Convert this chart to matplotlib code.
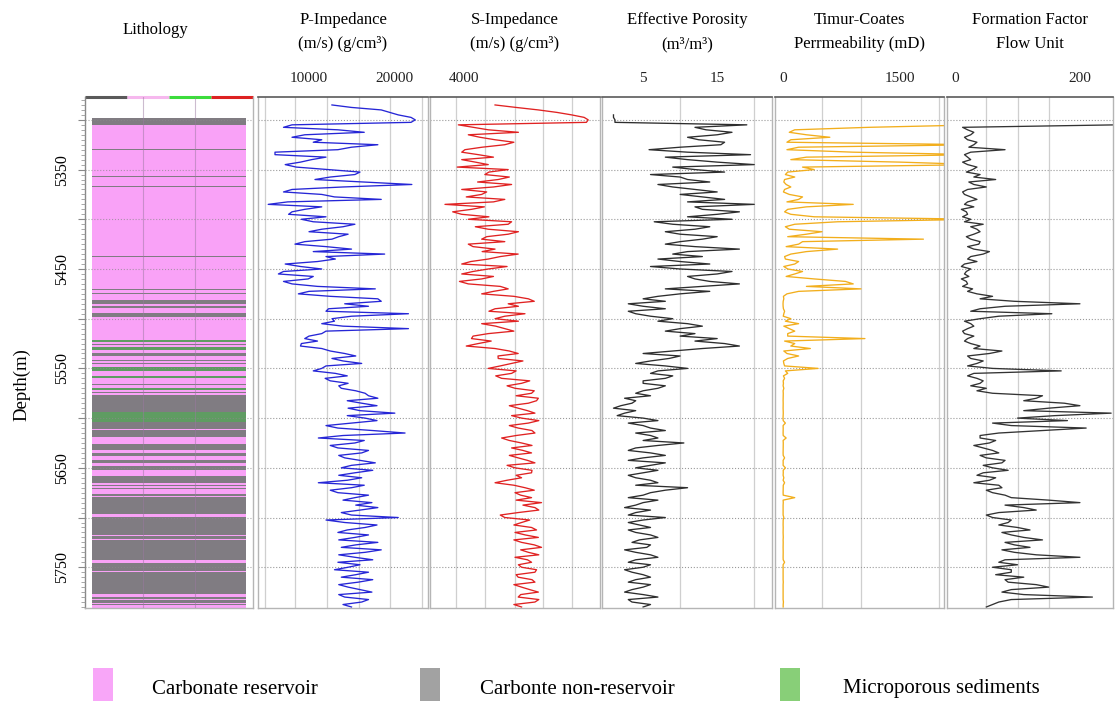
import numpy as np
import matplotlib
matplotlib.use("Agg")
import matplotlib.pyplot as plt
from matplotlib.patches import Rectangle

plt.rcParams['font.family'] = ['Liberation Serif', 'DejaVu Serif']

nan = np.nan
# ---------------- data ----------------
# log readings every 5 m starting at 5285 m ("main") and the readings
# half-way between them, starting at 5287.5 m ("mid")
depth_start = 5285.0
depth_step = 2.5

p_imp_main = [12700, 18500, 20500, 22500, 8000, 13400, 9500, 11500, 18100, 13400,
              6000, 10300, 7200, 12300, 15400, 10700, 22100, 8000, 11500, 18500,
              5200, 9500, 7600, 9100, 15400, 11500, 14600, 12700, 8350, 15000,
              18900, 13100, 7200, 11500, 6400, 9900, 8000, 17800, 8750, 18100,
              14200, 12300, 21700, 12700, 11500, 21700, 11500, 9500, 9100, 11500,
              14200, 12700, 16200, 11500, 13100, 11900, 14600, 13800, 16600, 18100,
              16200, 14600, 20100, 16600, 15000, 13400, 21300, 11100, 15400, 13400,
              16200, 14200, 17800, 13800, 15400, 16200, 11100, 15000, 13400, 15400,
              17400, 18100, 13800, 20500, 14200, 16600, 13400, 15400, 18100, 13800,
              16600, 15400, 13400, 14600, 17000, 13800, 15800, 14600, 17400, 14200,
              16200, 15000]
p_imp_mid = [15000, 19500, 22000, 22000, 7000, 16500, 8000, 10500, 15000, 6000,
             12000, 9000, 8500, 16000, 12500, 16500, 14000, 7000, 13000, 7500,
             11500, 8000, 12000, 10500, 14000, 10000, 13500, 9500, 12000, 10500,
             12000, 11000, 9000, 7000, 10500, 7000, 11000, 10000, 12500, 18500,
             17000, 12000, 15000, 13000, 14000, 12000, 10000, 11000, 9000, 12500,
             15500, 14000, 12000, 10500, 14500, 12500, 13500, 15500, 17000, 14500,
             18000, 16000, 14500, 18000, 12000, 17500, 14000, 16500, 12500, 17000,
             13500, 16000, 15000, 17500, 13500, 14500, 16500, 12500, 17000, 14000,
             15500, 16000, 15000, 12000, 18000, 14500, 17000, 13500, 15500, 18500,
             13500, 17500, 16000, 13000, 15500, 17500, 13500, 16000, 13500, 17000,
             14000]

s_imp_main = [5370, 7280, 8750, 9480, 3750, 5070, 4190, 5370, 5800, 4040,
              4630, 3900, 5070, 5950, 4920, 5510, 6100, 3900, 4780, 5800,
              3160, 4330, 3900, 4190, 5950, 5070, 5950, 4780, 4190, 5370,
              6390, 5070, 3900, 5070, 3900, 4780, 4190, 5950, 4780, 6840,
              5950, 5370, 6690, 5370, 4780, 5800, 5070, 4330, 4630, 5370,
              6390, 5510, 6100, 5070, 6100, 5660, 6540, 6250, 6980, 7280,
              6840, 6390, 7130, 6540, 6840, 6390, 7130, 5660, 6540, 6100,
              6980, 6390, 7130, 6250, 6980, 6540, 5370, 6690, 6250, 6980,
              7420, 7130, 6390, 5800, 6540, 6980, 6250, 7280, 6540, 7420,
              6840, 6250, 6980, 6540, 7130, 6390, 7130, 6540, 7280, 6390,
              7130, 6540]
s_imp_mid = [6300, 8100, 9300, 9400, 4400, 6400, 4700, 6200, 4800, 3900,
             5300, 4500, 3700, 5100, 6000, 4600, 5300, 5000, 4100, 5300,
             4900, 3500, 5100, 6100, 4500, 6400, 5000, 5800, 4400, 4800,
             5600, 4300, 5900, 4400, 5300, 3800, 5600, 5300, 6200, 7100,
             6400, 5100, 5800, 6400, 5400, 6200, 4400, 5200, 4100, 6000,
             5500, 6600, 5600, 6300, 5400, 6900, 5900, 7100, 6300, 7200,
             6000, 6800, 6100, 7300, 6000, 7000, 6300, 6000, 7000, 6600,
             6000, 6800, 5900, 7000, 6300, 5900, 6200, 7100, 6500, 6300,
             6600, 7300, 5600, 6900, 6200, 7200, 6700, 6200, 7100, 6500,
             7300, 6800, 6400, 7200, 6300, 7000, 6200, 6900, 6500, 7300,
             6200]

porosity_main = [nan, nan, 1.0, 1.2, 19.0, 13.5, 15.0, 12.5, 15.5, 5.8,
                 19.5, 11.0, 20.0, 12.0, 6.0, 11.0, 7.0, 12.0, 10.0, 16.0,
                 20.0, 13.0, 15.0, 17.0, 9.0, 12.0, 10.0, 13.0, 8.0, 18.0,
                 9.0, 7.0, 14.0, 10.0, 15.0, 12.0, 18.0, 8.0, 10.0, 5.0,
                 3.0, 8.0, 4.0, 9.0, 11.0, 10.0, 12.0, 15.0, 16.0, 13.0,
                 5.0, 8.5, 4.0, 11.0, 6.0, 8.0, 5.0, 7.0, 4.0, 2.5,
                 3.5, 1.0, 2.5, 5.0, 3.0, 6.0, 4.0, 7.0, 10.5, 4.0,
                 6.0, 5.0, 8.0, 4.0, 5.0, 4.0, 7.0, 11.0, 6.0, 3.0,
                 5.0, 2.5, 4.0, 8.0, 3.0, 6.0, 4.0, 7.0, 3.5, 5.5,
                 4.0, 7.0, 3.0, 5.0, 3.5, 6.0, 3.0, 5.0, 2.5, 7.0,
                 3.5, 5.0]
porosity_mid = [nan, nan, 1.0, 1.2, 12, 17, 11, 16, 10, 11,
                8, 15, 9, 16, 10, 14, 9, 15, 13, 11,
                12, 18, 11, 6.5, 14, 8, 15, 10, 12, 11,
                13, 10, 6, 17, 11, 14, 13, 14, 7, 8,
                5, 3, 6, 7, 13, 8, 10, 12, 18, 9,
                10, 6, 8, 7, 9, 5, 8, 5, 6, 4,
                2, 4, 1.5, 7, 5, 8, 6, 5, 7, 3,
                8, 3, 6, 7, 3, 6, 4, 8, 5, 7,
                4, 6, 3, 5, 4.5, 3, 6, 4.5, 6, 2.5,
                6, 4, 6, 2.5, 5, 4, 6, 3.5, 5, 3,
                6]

perm_main = [nan, nan, nan, nan, 2500, 150, 300, 100, 2500, 50,
             2500, 100, 2500, 400, 30, 20, 40, 20, 80, 200,
             900, 60, 100, 2500, 150, 80, 300, 1800, 200, 700,
             100, 30, 150, 60, 150, 400, 900, 1000, 50, 10,
             0, 5, 10, 100, 200, 80, 60, 1050, 150, 350,
             50, 60, 10, 450, 60, 20, 5, 10, 3, 2,
             2, 1, 3, 0, 30, 2, 1, 40, 3, 2,
             1, 20, 2, 30, 3, 10, 20, 2, 1, 150,
             3, 1, 2, 10, 1, 2, 1, 3, 2, 1,
             2, 1, 20, 1, 2, 1, 3, 1, 2, 1,
             5, 2]
perm_mid = [nan, nan, nan, nan, 1100, 80, 600, 50, 200, 900,
            300, 1500, 250, 60, 150, 10, 100, 5, 250, 50,
            300, 20, 400, 700, 30, 500, 60, 250, 40, 300,
            20, 200, 10, 250, 40, 800, 300, 200, 5, 2,
            1, 20, 3, 30, 10, 150, 60, 20, 100, 10,
            200, 5, 20, 30, 5, 2, 1, 1, 2, 1,
            1, 2, 1, 2, 1, 1, 2, 1, 3, 1,
            2, 1, 1, 2, 1, 1, 3, 1, 2, 1,
            1, 2, 1, 2, 1, 1, 2, 1, 1, 2,
            1, 2, 1, 1, 2, 1, 1, 2, 1, 1,
            2]

ffu_main = [nan, nan, nan, nan, 260, 20, 25, 20, 30, 80,
            15, 25, 20, 28, 40, 65, 30, 20, 15, 35,
            15, 10, 20, 25, 45, 35, 30, 25, 38, 30,
            45, 20, 15, 25, 15, 10, 20, 28, 35, 40,
            200, 40, 155, 40, 25, 20, 15, 20, 25, 30,
            55, 25, 35, 60, 30, 35, 40, 50, 60, 130,
            175, 150, 250, 100, 60, 210, 70, 40, 55, 45,
            70, 50, 75, 60, 45, 65, 30, 75, 60, 90,
            200, 110, 70, 60, 85, 100, 75, 110, 80, 120,
            95, 200, 70, 60, 90, 110, 85, 150, 75, 220,
            70, 50]
ffu_mid = [nan, nan, nan, nan, 12, 30, 15, 35, 22, 25,
           20, 12, 35, 18, 30, 22, 50, 12, 25, 20,
           30, 18, 12, 15, 25, 40, 18, 40, 20, 55,
           25, 35, 10, 18, 22, 18, 12, 20, 60, 95,
           80, 25, 70, 15, 30, 12, 30, 15, 40, 75,
           20, 45, 20, 170, 20, 45, 25, 35, 140, 110,
           200, 110, 160, 180, 90, 140, 40, 65, 30, 60,
           40, 80, 45, 85, 35, 55, 70, 50, 80, 150,
           80, 130, 50, 90, 70, 120, 90, 140, 95, 75,
           130, 80, 100, 90, 65, 80, 130, 90, 110, 90,
           60]

# lithology: contiguous layers, top depth + code (0 reservoir, 1 non-reservoir, 2 microporous)
lith_top = [5298.5, 5305.0, 5329.6, 5330.4, 5356.2, 5357.0, 5366.3, 5367.1, 5436.8, 5437.6,
            5470.3, 5471.1, 5474.3, 5475.1, 5481.5, 5485.5, 5487.6, 5489.0, 5494.0, 5498.0,
            5521.0, 5523.5, 5525.7, 5526.7, 5528.0, 5531.0, 5535.0, 5538.0, 5541.6, 5542.6,
            5544.4, 5545.4, 5548.5, 5552.5, 5558.0, 5560.0, 5565.6, 5566.6, 5570.0, 5572.0,
            5573.7, 5574.7, 5577.0, 5594.0, 5604.0, 5610.5, 5611.5, 5619.0, 5626.0, 5632.0,
            5635.0, 5638.0, 5642.0, 5645.0, 5648.0, 5652.0, 5658.5, 5665.0, 5667.5, 5668.5,
            5670.6, 5671.6, 5676.0, 5678.0, 5679.0, 5696.8, 5699.0, 5717.5, 5718.5, 5721.3,
            5722.3, 5743.0, 5746.0, 5753.6, 5754.6, 5777.0, 5780.0, 5782.3, 5783.2, 5786.3,
            5787.2, 5788.0]
lith_code = [1, 0, 1, 0, 1, 0, 1, 0, 1, 0,
             1, 0, 1, 0, 1, 0, 1, 0, 1, 0,
             2, 0, 1, 0, 2, 0, 1, 0, 1, 0,
             1, 0, 2, 0, 2, 0, 1, 0, 2, 0,
             1, 0, 1, 2, 1, 0, 1, 0, 1, 0,
             1, 0, 1, 0, 1, 0, 1, 0, 1, 0,
             1, 0, 1, 0, 1, 0, 1, 0, 1, 0,
             1, 0, 1, 0, 1, 0, 1, 0, 1, 0,
             1, 0]
lith_bottom = 5792.0

lith_names = ["Carbonate reservoir", "Carbonte non-reservoir", "Microporous sediments"]
lith_fill_colors = ['#F9A2F7', '#807C82', '#5F9C62']
legend_colors = ['#F8A6F8', '#A2A2A2', '#88CF78']

track_titles = [("P-Impedance", "(m/s) (g/cm\u00b3)"),
                ("S-Impedance", "(m/s) (g/cm\u00b3)"),
                ("Effective Porosity", "(m\u00b3/m\u00b3)"),
                ("Timur-Coates", "Perrmeability (mD)"),
                ("Formation Factor", "Flow Unit")]
track_xlim = [(4000, 24000), (2500, 10000), (-0.55, 22.4), (-103, 2064), (-13, 253)]
track_ticks = [[10000, 20000], [4000], [5, 15], [0, 1500], [0, 200]]
track_grid = [[4820, 8350, 12120, 15880, 19530, 23290],
              [3650, 4930, 6250, 7490, 8760],
              [5, 10, 15, 20],
              [0, 500, 1000, 1500, 2000],
              [0, 50, 100, 150, 200]]
track_colors = ['#2626D6', '#E02222', '#2E2E2E', '#F2AE1C', '#333333']


def interleave(main, mid):
    out = np.empty(len(main) + len(mid))
    out[0::2] = main
    out[1::2] = mid
    return out


track_data = [interleave(p_imp_main, p_imp_mid),
              interleave(s_imp_main, s_imp_mid),
              interleave(porosity_main, porosity_mid),
              interleave(perm_main, perm_mid),
              interleave(ffu_main, ffu_mid)]

# ---------------- figure ----------------
W, H = 1115, 702
fig = plt.figure(figsize=(W / 100, H / 100), dpi=100)

top_px, bot_px = 97, 608
ax_b = 1 - bot_px / H
ax_h = (bot_px - top_px) / H
ylim = (5791, 5277)
depth = depth_start + depth_step * np.arange(len(track_data[0]))
hgrid = np.arange(5300, 5751, 50)


def style_frame(ax):
    for side in ['left', 'right', 'bottom']:
        ax.spines[side].set_color('#b5b5b5')
        ax.spines[side].set_linewidth(1.0)
    ax.spines['top'].set_color('#5a5a5a')
    ax.spines['top'].set_linewidth(1.2)


# lithology track
ax_l = fig.add_axes([85 / W, ax_b, 168 / W, ax_h])
ax_l.set_ylim(*ylim)
ax_l.set_xlim(-0.045, 1.045)
lith_base = lith_top[1:] + [lith_bottom]
for t, b, c in zip(lith_top, lith_base, lith_code):
    ax_l.barh((t + b) / 2, 1.0, height=b - t, left=0, color=lith_fill_colors[c], linewidth=0)
ax_l.set_xticks([])
ax_l.set_xticks([1 / 3, 2 / 3], minor=True)
ax_l.tick_params(axis='x', which='both', length=0, labelbottom=False)
ax_l.set_yticks(hgrid)
ax_l.set_yticklabels([str(v) if v % 100 == 50 else '' for v in hgrid],
                     rotation=90, va='center', fontsize=11.5)
ax_l.set_yticks(np.arange(5280, 5791, 5), minor=True)
ax_l.tick_params(axis='y', which='major', length=5, color='#888888', pad=6)
ax_l.tick_params(axis='y', which='minor', length=3, color='#999999')
ax_l.grid(which='minor', axis='x', color='#9a7aa0', lw=0.8, alpha=0.5)
ax_l.grid(which='major', axis='y', color='#8a8a8a', lw=0.8, ls=':', alpha=0.7)
ax_l.set_axisbelow(False)
style_frame(ax_l)
ax_l.spines['top'].set_visible(False)
ax_l.spines['left'].set_color('#888888')
bar_cols = ['#5a5a5a', '#F6B8EE', '#3CDC3C', '#DD2222']
for i, c in enumerate(bar_cols):
    ax_l.plot([i / 4, (i + 1) / 4], [1, 1], transform=ax_l.transAxes, color=c,
              lw=2.2, clip_on=False, solid_capstyle='butt')

fig.text(155 / W, 1 - 30 / H, "Lithology", ha='center', va='center', fontsize=12)
fig.text(22 / W, 1 - 385 / H, "Depth(m)", rotation=90, ha='center', va='center', fontsize=13.5)

# log tracks
lefts = [258, 430, 602, 775, 947]
widths = [170, 170, 170, 169, 166]
for k in range(5):
    ax = fig.add_axes([lefts[k] / W, ax_b, widths[k] / W, ax_h])
    ax.plot(track_data[k], depth, color=track_colors[k], lw=0.95)
    ax.set_ylim(*ylim)
    ax.set_xlim(*track_xlim[k])
    ax.xaxis.tick_top()
    ax.set_xticks(track_ticks[k])
    ax.set_xticklabels([str(v) for v in track_ticks[k]], fontsize=11, color='#222222')
    ax.set_xticks(track_grid[k], minor=True)
    ax.tick_params(axis='x', which='both', length=0, pad=9)
    ax.set_yticks(hgrid)
    ax.tick_params(axis='y', which='both', length=0, labelleft=False)
    ax.grid(which='minor', axis='x', color='#cfcfcf', lw=0.9)
    ax.grid(which='major', axis='y', color='#9a9a9a', lw=0.8, ls=':')
    ax.set_axisbelow(True)
    style_frame(ax)
    cx = (lefts[k] + widths[k] / 2) / W
    fig.text(cx, 1 - 20 / H, track_titles[k][0], ha='center', va='center', fontsize=12)
    fig.text(cx, 1 - 44 / H, track_titles[k][1], ha='center', va='center', fontsize=12)

# legend
leg_sq_x = [93, 420, 780]
leg_tx_x = [152, 480, 843]
for i in range(3):
    fig.add_artist(Rectangle((leg_sq_x[i] / W, 1 - 701 / H), 20 / W, 33 / H,
                             transform=fig.transFigure, color=legend_colors[i], lw=0))
    fig.text(leg_tx_x[i] / W, 1 - 689 / H, lith_names[i], ha='left', va='center', fontsize=15)

fig.savefig("out.png", dpi=100)
